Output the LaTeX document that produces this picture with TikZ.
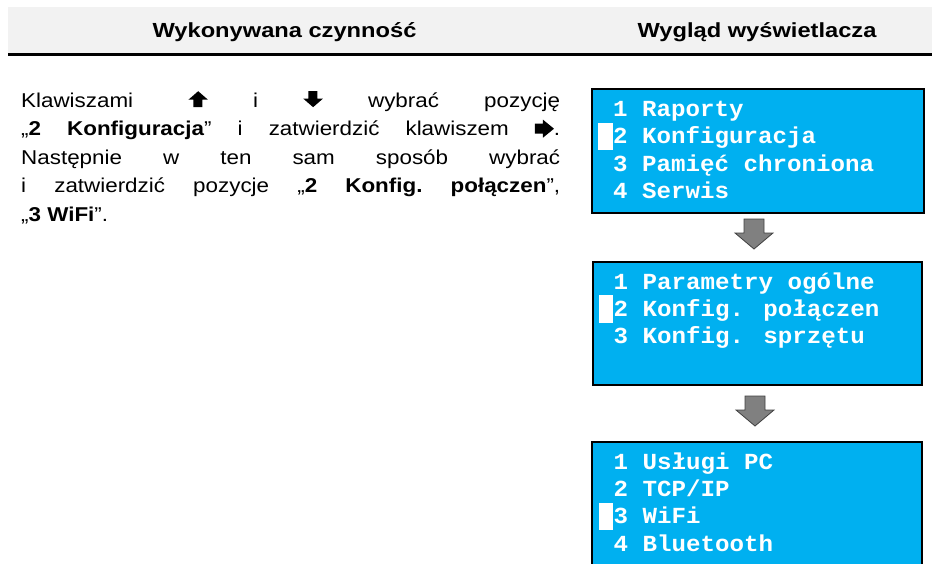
\documentclass[tikz,border=0pt]{standalone}
\usepackage{fontspec}
\setmainfont{Liberation Sans}
\newfontfamily\hdrfont{Liberation Sans}[FakeStretch=1.16]
\newfontfamily\bodyfont{Liberation Sans}[FakeStretch=1.12]
\newfontfamily\lcdfont{Liberation Mono}[FakeStretch=1.05]
\definecolor{lcd}{HTML}{00B0F0}
\definecolor{hdrgray}{HTML}{F2F2F2}
\definecolor{arrgray}{HTML}{808080}
\newcommand\KeyUp{\tikz[x=1pt,y=1pt,baseline=0pt]\fill[black] (5,0)--(14,0)--(14,7.5)--(19.5,7.5)--(9.75,16)--(0,7.5)--(5,7.5)--cycle;}
\newcommand\KeyDown{\tikz[x=1pt,y=1pt,baseline=0pt]\fill[black] (5,16)--(14,16)--(14,8.5)--(19.5,8.5)--(9.75,0)--(0,8.5)--(5,8.5)--cycle;}
\newcommand\KeyRight{\tikz[x=1pt,y=1pt,baseline=0pt]\fill[black] (0,2)--(8,2)--(8,-2)--(19,7)--(8,16)--(8,12)--(0,12)--cycle;}
\begin{document}
\begin{tikzpicture}[x=1pt,y=-1pt,
  hdr/.style={font=\hdrfont\bfseries\fontsize{20.4}{24}\selectfont, anchor=base, inner sep=0},
  lcdbox/.style={draw=black, line width=2pt, fill=lcd, inner sep=0, outer sep=0, anchor=north west},
  lcdtext/.style={font=\lcdfont\bfseries\fontsize{23}{27}\selectfont, text=white, anchor=base west, inner sep=0},
  cursor/.style={fill=white, inner sep=0, outer sep=0, minimum width=14.7pt, minimum height=27.5pt, anchor=north west},
  bigarrow/.style={fill=arrgray, draw=black!75, line width=0.8pt, line join=miter}]
\useasboundingbox (0,0) rectangle (932,563);
\clip (0,0) rectangle (932,563);
% header
\fill[hdrgray] (8,7) rectangle (932,53);
\draw[line width=2.5pt] (8,54.5) -- (932,54.5);
\node[hdr] (h1) at (284.5,37.3) {Wykonywana czynność};
\node[hdr] (h2) at (757,37.3) {Wygląd wyświetlacza};
% body text
\node[anchor=north west, inner sep=0, text width=539pt, align=justify,
      font=\bodyfont\fontsize{20}{28.5}\selectfont] (txt) at (21,86)
 {\frenchspacing\noindent\rule{0pt}{21pt}Klawiszami \hspace{10pt}\KeyUp{} i \KeyDown{} wybrać pozycję\linebreak
  „\textbf{2 Konfiguracja}” i zatwierdzić klawiszem \KeyRight.\linebreak
  Następnie w ten sam sposób wybrać\linebreak
  i zatwierdzić pozycje „\textbf{2 Konfig. połączen}”,\linebreak
  „\textbf{3 WiFi}”.};
% display 1
\node[lcdbox, minimum width=332pt, minimum height=124pt] (box1) at (592,89) {};
\node[cursor] (c1) at (598,122.9) {};
\node[lcdtext] (m11) at (613,116.5) {1 Raporty};
\node[lcdtext] (m12) at (613,143.9) {2 Konfiguracja};
\node[lcdtext] (m13) at (613,171.3) {3 Pamięć chroniona};
\node[lcdtext] (m14) at (613,198.7) {4 Serwis};
% arrow 1
\coordinate (a1) at (754,219);
\filldraw[bigarrow] (a1) ++(-10,0) -- ++(20,0) -- ++(0,14) -- ++(9,0) -- ++(-19,16) -- ++(-19,-16) -- ++(9,0) -- cycle;
% display 2
\node[lcdbox, minimum width=329pt, minimum height=123pt] (box2) at (593,262) {};
\node[cursor] (c2) at (598.5,295.4) {};
\node[lcdtext] (m21) at (613.5,289) {1 Parametry ogólne};
\node[lcdtext] (m22) at (613.5,316.4) {2 Konfig. połączen};
\node[lcdtext] (m23) at (613.5,343.8) {3 Konfig. sprzętu};
% arrow 2
\coordinate (a2) at (755,396);
\filldraw[bigarrow] (a2) ++(-10,0) -- ++(20,0) -- ++(0,14) -- ++(9,0) -- ++(-19,16) -- ++(-19,-16) -- ++(9,0) -- cycle;
% display 3
\node[lcdbox, minimum width=330pt, minimum height=160pt] (box3) at (592,442) {};
\node[cursor] (c3) at (598.5,502.8) {};
\node[lcdtext] (m31) at (613.5,469) {1 Usługi PC};
\node[lcdtext] (m32) at (613.5,496.4) {2 TCP/IP};
\node[lcdtext] (m33) at (613.5,523.8) {3 WiFi};
\node[lcdtext] (m34) at (613.5,551.2) {4 Bluetooth};
\end{tikzpicture}
\end{document}
